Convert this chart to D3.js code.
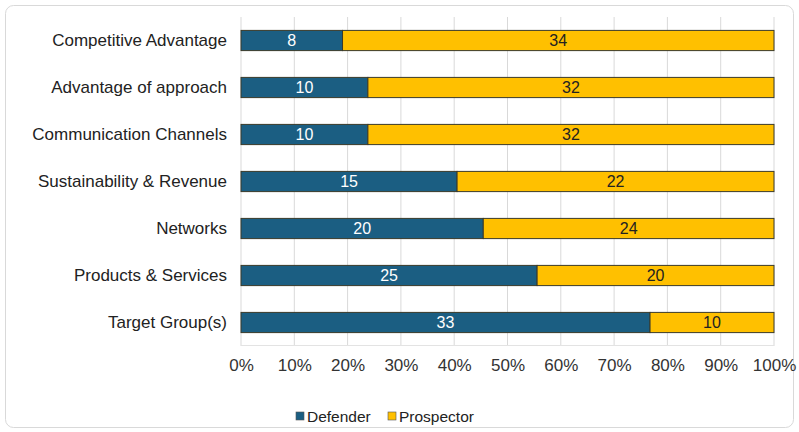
<!DOCTYPE html>
<html>
<head>
<meta charset="utf-8">
<script src="https://cdn.jsdelivr.net/npm/d3@7"></script>
<style>
  body { margin: 0; background: #fff; font-family: "Liberation Sans", Arial, sans-serif; }
</style>
</head>
<body>
<div id="container"></div>
<script>
/* DATA */
const categories = ["Competitive Advantage", "Advantage of approach", "Communication Channels",
  "Sustainability & Revenue", "Networks", "Products & Services", "Target Group(s)"];
const defender = [8, 10, 10, 15, 20, 25, 33];
const prospector = [34, 32, 32, 22, 24, 20, 10];
const seriesNames = ["Defender", "Prospector"];
const tickValues = [0, 0.1, 0.2, 0.3, 0.4, 0.5, 0.6, 0.7, 0.8, 0.9, 1];

/* CONSTANTS */
const width = 799;
const height = 432;
const colors = d3.scaleOrdinal(seriesNames, ["#1b5e82", "#ffc000"]);
const textColors = d3.scaleOrdinal(seriesNames, ["#ffffff", "#222222"]);

const data = categories.map((c, i) => ({ category: c, Defender: defender[i], Prospector: prospector[i] }));
const stacked = d3.stack().keys(seriesNames).offset(d3.stackOffsetExpand)(data);

/* SCALES */
const xScale = d3.scaleLinear().domain([0, 1]).range([241, 774]);
const yScale = d3.scaleBand()
  .domain(categories)
  .range([17, 346])
  .paddingInner(0.57)
  .paddingOuter(0.285);

/* SVG */
const svg = d3.select("#container")
  .append("svg")
  .attr("width", width)
  .attr("height", height);

// frame
svg.append("rect")
  .attr("x", 5.5).attr("y", 5.5)
  .attr("width", 788).attr("height", 422)
  .attr("rx", 8)
  .attr("fill", "none")
  .attr("stroke", "#d9d9d9");

// gridlines
svg.append("g")
  .selectAll("line")
  .data(tickValues)
  .join("line")
  .attr("x1", d => xScale(d)).attr("x2", d => xScale(d))
  .attr("y1", 17).attr("y2", 346)
  .attr("stroke", "#d9d9d9");

svg.append("line")
  .attr("x1", xScale(0)).attr("x2", xScale(1))
  .attr("y1", 345.5).attr("y2", 345.5)
  .attr("stroke", "#e3e3e3");

// x axis
const xAxis = d3.axisBottom(xScale)
  .tickValues(tickValues)
  .tickFormat(d3.format(".0%"))
  .tickSize(0)
  .tickPadding(13);
svg.append("g")
  .attr("transform", "translate(0,346)")
  .call(xAxis)
  .call(g => g.select(".domain").remove())
  .call(g => g.selectAll("text")
    .attr("font-size", 17)
    .attr("fill", "#333")
    .attr("font-family", "Liberation Sans, Arial, sans-serif"));

// y axis
const yAxis = d3.axisLeft(yScale).tickSize(0).tickPadding(14);
svg.append("g")
  .attr("transform", `translate(${xScale(0)},0)`)
  .call(yAxis)
  .call(g => g.select(".domain").remove())
  .call(g => g.selectAll("text")
    .attr("font-size", 17)
    .attr("fill", "#222")
    .attr("font-family", "Liberation Sans, Arial, sans-serif"));

// bars
const layers = svg.append("g")
  .selectAll("g")
  .data(stacked)
  .join("g")
  .attr("fill", d => colors(d.key));

layers.selectAll("rect")
  .data(d => d)
  .join("rect")
  .attr("x", d => xScale(d[0]))
  .attr("y", d => yScale(d.data.category))
  .attr("width", d => xScale(d[1]) - xScale(d[0]))
  .attr("height", yScale.bandwidth())
  .attr("stroke", "#3a3a2a")
  .attr("stroke-width", 1);

// labels
stacked.forEach(layer => {
  svg.append("g")
    .selectAll("text")
    .data(layer)
    .join("text")
    .attr("x", d => (xScale(d[0]) + xScale(d[1])) / 2)
    .attr("y", d => yScale(d.data.category) + yScale.bandwidth() / 2)
    .attr("dy", "0.36em")
    .attr("text-anchor", "middle")
    .attr("font-size", 16)
    .attr("fill", textColors(layer.key))
    .text(d => d.data[layer.key]);
});

// legend
const legendX = [296, 388];
const legend = svg.append("g")
  .selectAll("g")
  .data(seriesNames)
  .join("g")
  .attr("transform", (d, i) => `translate(${legendX[i]},416)`);
legend.append("rect")
  .attr("x", 0).attr("y", -4)
  .attr("width", 8).attr("height", 8)
  .attr("fill", d => colors(d))
  .attr("stroke", "#555")
  .attr("stroke-width", 0.6);
legend.append("text")
  .attr("x", 11)
  .attr("dy", "0.36em")
  .attr("font-size", 15.5)
  .attr("fill", "#222")
  .text(d => d);
</script>
</body>
</html>
